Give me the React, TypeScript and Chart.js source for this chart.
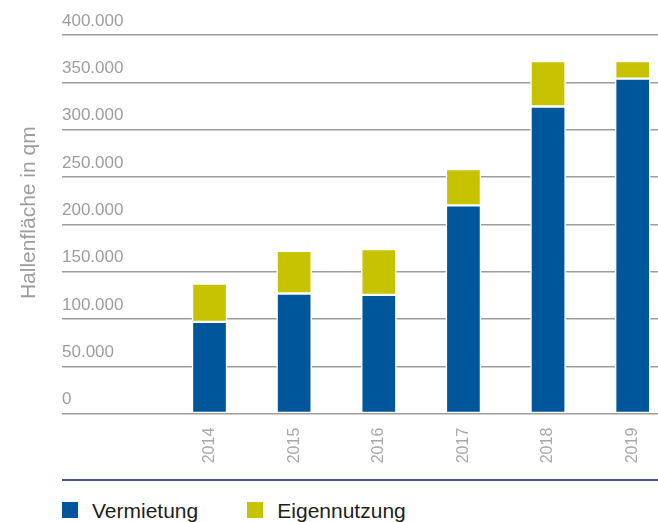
import React, { useEffect, useRef } from "react";
import { Chart, registerables } from "chart.js";

Chart.register(...registerables);

const years = [2014, 2015, 2016, 2017, 2018, 2019];
const vermietung = [97000, 127000, 125500, 220000, 324500, 354000];
const eigennutzung = [40500, 45000, 48500, 38500, 48000, 18500];
const yTicks = [0, 50000, 100000, 150000, 200000, 250000, 300000, 350000, 400000];
const seriesNames = ["Vermietung", "Eigennutzung"];
const seriesColors = ["#00569a", "#c8c300"];
const yTitle = "Hallenfläche in qm";
const xRange = [2012.257, 2019.299];

const GRAY = "#9d9d9d";
const FONT = "'Liberation Sans', Arial, sans-serif";

function fmt(v: number): string {
  return String(v).replace(/\B(?=(\d{3})+(?!\d))/g, ".");
}

export default function App() {
  const ref = useRef<HTMLCanvasElement | null>(null);

  useEffect(() => {
    if (!ref.current) return;
    const chart = new Chart(ref.current, {
      type: "bar",
      data: {
        labels: years,
        datasets: [
          {
            label: seriesNames[0],
            data: vermietung,
            backgroundColor: seriesColors[0],
            borderColor: "#ffffff",
            borderWidth: 1.5,
            borderSkipped: false,
            barThickness: 35,
          },
          {
            label: seriesNames[1],
            data: eigennutzung,
            backgroundColor: seriesColors[1],
            borderColor: "#ffffff",
            borderWidth: 1.5,
            borderSkipped: false,
            barThickness: 35,
          },
        ],
      },
      options: {
        responsive: false,
        animation: false,
        layout: { padding: { top: 35, left: 0, right: 0, bottom: 0 } },
        plugins: {
          legend: { display: false },
          tooltip: { enabled: false },
        },
        scales: {
          x: {
            type: "linear",
            stacked: true,
            offset: false,
            min: xRange[0],
            max: xRange[1],
            grid: { display: false, drawTicks: false, offset: false },
            border: { display: false },
            afterBuildTicks: (axis: any) => {
              axis.ticks = years.map((v) => ({ value: v }));
            },
            afterFit: (axis: any) => {
              axis.height = 65.3;
              axis.paddingLeft = 0;
              axis.paddingRight = 0;
            },
            ticks: {
              autoSkip: false,
              minRotation: 90,
              maxRotation: 90,
              padding: 14,
              color: "#a8a8a8",
              font: { family: FONT, size: 16 },
              callback: (v: any) => String(v),
            },
          },
          y: {
            stacked: true,
            min: 0,
            max: 400000,
            afterBuildTicks: (axis: any) => {
              axis.ticks = yTicks.map((v) => ({ value: v }));
            },
            afterFit: (axis: any) => {
              axis.width = 62;
            },
            grid: { color: GRAY, lineWidth: 1.5, drawTicks: false },
            border: { display: false },
            ticks: {
              mirror: true,
              padding: 0,
              labelOffset: -14,
              color: GRAY,
              font: { family: FONT, size: 17 },
              callback: (v: any) => fmt(Number(v)),
            },
            title: {
              display: true,
              text: "    " + yTitle,
              color: GRAY,
              font: { family: FONT, size: 21 },
              padding: { top: 17, bottom: 0 },
            },
          },
        },
      } as any,
    });
    return () => chart.destroy();
  }, []);

  return (
    <div style={{ position: "absolute", left: 0, top: 0, width: 658 }}>
      <canvas ref={ref} width={658} height={479} style={{ display: "block" }} />
      <div style={{ marginLeft: 62, width: 596, borderTop: "2px solid #4a578a" }} />
      <div
        style={{
          marginLeft: 62,
          marginTop: 18,
          font: `21px ${FONT}`,
          color: "#1d1d1b",
          whiteSpace: "nowrap",
        }}
      >
        {seriesNames.map((name, i) => (
          <span key={name} style={{ display: "inline-block", width: 185.3 }}>
            <span
              style={{
                display: "inline-block",
                width: 16,
                height: 16,
                background: seriesColors[i],
                marginRight: 14,
                verticalAlign: "baseline",
              }}
            />
            {name}
          </span>
        ))}
      </div>
    </div>
  );
}
